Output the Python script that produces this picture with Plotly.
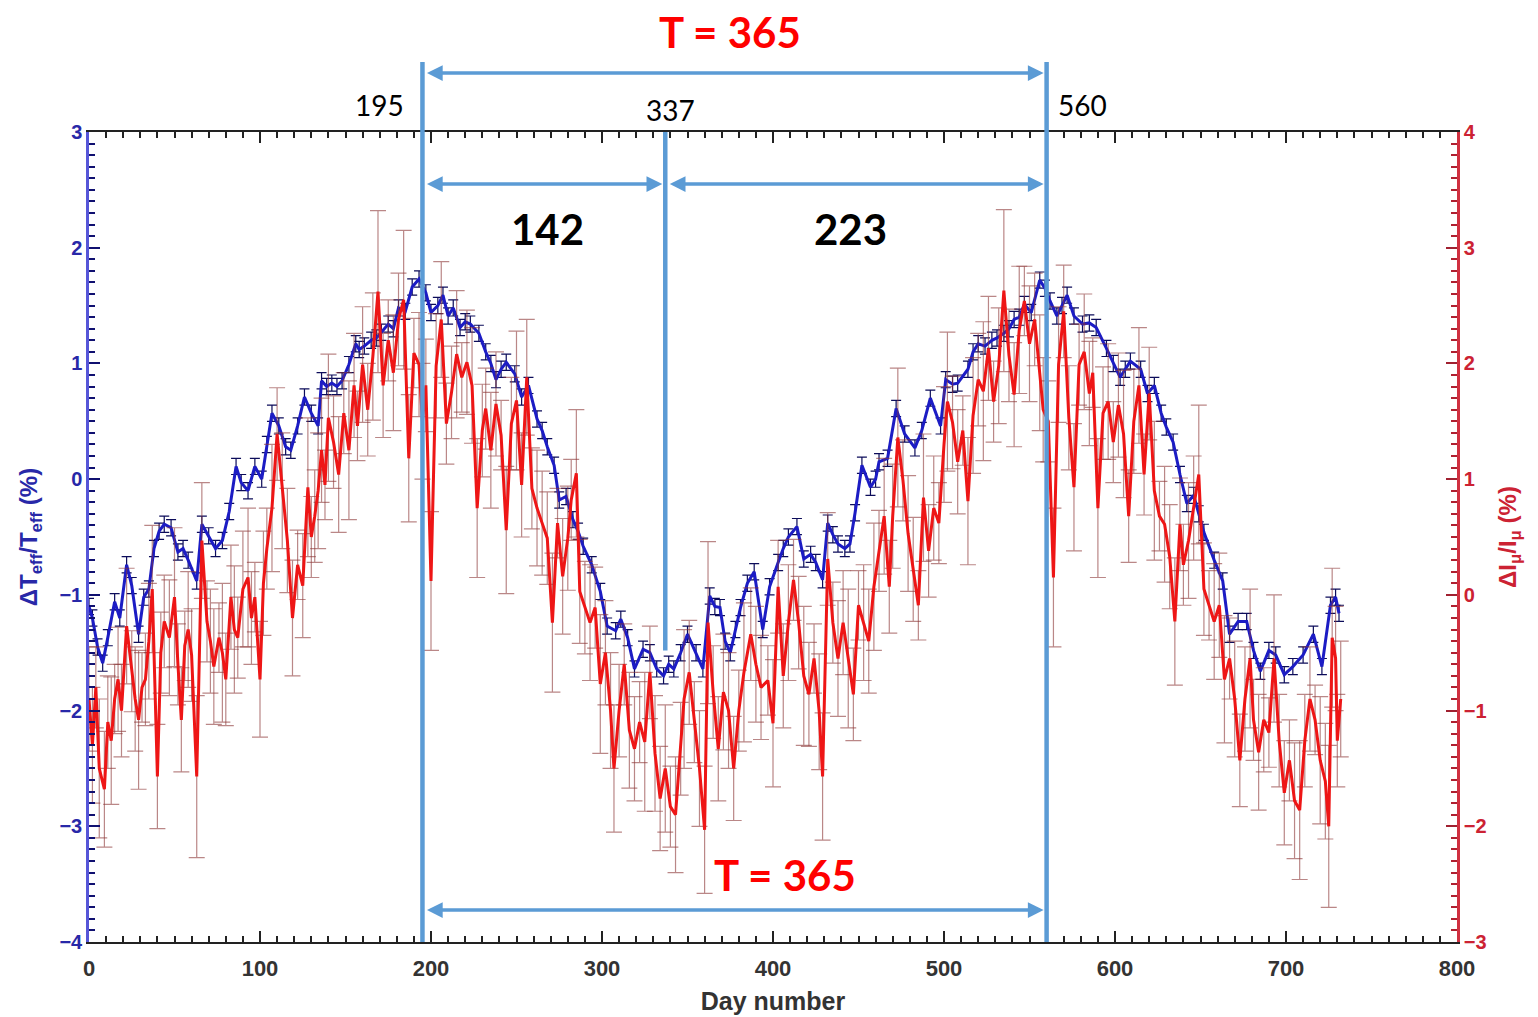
import plotly.graph_objects as go

# ---------------- data ----------------
# Blue series: Delta T_eff / T_eff (%), left axis
blue_days_y1 = [0, 2, 5, 8, 11, 15, 18, 22, 25, 29,
                32, 35, 38, 41, 44, 48, 52, 55, 58, 63,
                66, 70, 74, 78, 82, 86, 89, 93, 97, 101,
                104, 107, 111, 115, 118, 122, 126, 130, 134, 136,
                139, 142, 145, 148, 152, 156, 158, 161, 165, 168,
                171, 175, 178, 181, 185, 189, 193, 197, 200, 204,
                207, 210, 213, 217, 220, 223, 228, 232, 235, 238,
                241, 244, 249, 253, 257, 262, 265, 268, 272, 275,
                279, 283, 286, 289, 294, 299, 303, 308, 311, 315,
                319, 324, 328, 332, 336, 339, 342, 346, 350, 355,
                359, 363]
blue_vals_y1 = [-1.1, -1.2, -1.45, -1.59, -1.37, -1.06, -1.2, -0.74, -0.92, -1.34,
                -1.02, -0.95, -0.6, -0.45, -0.39, -0.42, -0.63, -0.6, -0.7, -0.88,
                -0.39, -0.49, -0.6, -0.53, -0.28, 0.11, -0.03, -0.1, 0.11, 0.0,
                0.3, 0.57, 0.46, 0.28, 0.25, 0.46, 0.71, 0.57, 0.46, 0.85,
                0.8, 0.83, 0.8, 0.85, 0.99, 1.17, 1.12, 1.15, 1.2, 1.22,
                1.27, 1.34, 1.3, 1.48, 1.45, 1.66, 1.73, 1.61, 1.44, 1.5,
                1.59, 1.41, 1.48, 1.31, 1.36, 1.34, 1.26, 1.1, 1.0, 0.86,
                0.95, 1.01, 0.91, 0.71, 0.81, 0.52, 0.42, 0.28, 0.12, -0.18,
                -0.15, -0.35, -0.45, -0.58, -0.74, -0.97, -1.27, -1.31, -1.21, -1.37,
                -1.64, -1.47, -1.5, -1.64, -1.7, -1.6, -1.64, -1.5, -1.34, -1.5,
                -1.64, -1.01]
blue_days_y2 = [366, 369, 372, 375, 378, 381, 385, 389, 394, 398,
                403, 406, 409, 414, 418, 422, 425, 429, 432, 435,
                438, 442, 445, 448, 452, 457, 460, 462, 467, 472,
                477, 483, 487, 492, 498, 501, 505, 508, 514, 517,
                520, 524, 528, 531, 535, 538, 541, 544, 547, 551,
                556, 559, 562, 566, 569, 572, 576, 581, 585, 589,
                595, 599, 603, 606, 609, 615, 619, 623, 627, 630,
                634, 638, 642, 646, 649, 652, 658, 663, 667, 672,
                677, 681, 685, 690, 694, 699, 704, 710, 716, 721,
                726, 729, 731]
blue_vals_y2 = [-1.1, -1.11, -1.4, -1.5, -1.3, -1.11, -0.9, -0.8, -1.3, -0.93,
                -0.72, -0.6, -0.5, -0.41, -0.69, -0.65, -0.72, -0.87, -0.38, -0.48,
                -0.56, -0.6, -0.56, -0.29, 0.12, -0.07, 0.0, 0.15, 0.18, 0.61,
                0.39, 0.27, 0.42, 0.7, 0.46, 0.86, 0.82, 0.83, 0.95, 1.1,
                1.17, 1.15, 1.2, 1.22, 1.26, 1.3, 1.38, 1.4, 1.51, 1.44,
                1.72, 1.65, 1.54, 1.41, 1.5, 1.59, 1.41, 1.34, 1.35, 1.31,
                1.13, 1.0, 0.88, 0.95, 1.02, 0.95, 0.74, 0.81, 0.57, 0.45,
                0.32, 0.04, -0.21, -0.14, -0.3, -0.46, -0.7, -0.88, -1.34, -1.23,
                -1.23, -1.48, -1.66, -1.48, -1.52, -1.69, -1.62, -1.52, -1.34, -1.62,
                -1.09, -1.02, -1.16]
blue_err = 0.07

# Red series: Delta I_mu / I_mu (%), right axis
red_days_y1 = [0, 2, 4, 6, 9, 11, 13, 15, 17, 19,
               22, 25, 27, 29, 31, 33, 35, 37, 40, 42,
               44, 47, 50, 52, 54, 56, 58, 60, 63, 66,
               69, 71, 73, 76, 78, 80, 83, 85, 87, 90,
               93, 95, 97, 100, 102, 104, 107, 110, 113, 116,
               119, 122, 125, 128, 130, 132, 134, 136, 138, 140,
               143, 146, 149, 152, 155, 157, 160, 163, 166, 169,
               172, 175, 178, 181, 184, 187, 190, 193, 195, 197,
               200, 203, 206, 209, 212, 215, 218, 221, 224, 227,
               230, 232, 235, 238, 241, 244, 247, 250, 253, 256,
               259, 262, 265, 268, 271, 274, 277, 280, 282, 285,
               287, 290, 293, 296, 299, 302, 305, 307, 310, 313,
               316, 319, 322, 325, 328, 331, 334, 337, 340, 343,
               346, 348, 351, 354, 357, 360, 362, 365, 368, 371]
red_vals_y1 = [-0.9, -1.3, -0.8, -1.5, -1.68, -1.1, -1.26, -0.9, -0.73, -1.0,
               -0.27, -0.66, -0.9, -1.08, -0.8, -0.73, -0.4, 0.05, -1.57, -0.5,
               -0.23, -0.37, -0.02, -0.6, -1.08, -0.44, -0.3, -0.52, -1.57, 0.47,
               -0.23, -0.4, -0.62, -0.37, -0.5, -0.73, -0.02, -0.3, -0.37, 0.05,
               0.15, -0.2, -0.02, -0.73, 0.1, 0.4, 0.75, 1.39, 0.9, 0.47,
               -0.2, 0.26, 0.08, 0.93, 0.5, 0.68, 0.9, 1.25, 0.95, 1.53,
               1.32, 1.04, 1.57, 1.25, 1.81, 1.46, 1.99, 1.6, 2.06, 2.62,
               1.81, 2.2, 1.92, 2.38, 2.55, 1.18, 2.09, 1.99, 1.5, 1.81,
               0.12, 1.98, 2.38, 1.48, 1.75, 2.08, 1.88, 2.01, 1.81, 0.75,
               1.42, 1.61, 1.25, 1.65, 1.38, 0.56, 1.48, 1.68, 0.95, 1.88,
               0.92, 0.75, 0.62, 0.49, -0.24, 0.62, 0.16, 0.49, 0.82, 1.05,
               0.03, -0.11, -0.24, -0.11, -0.77, -0.5, -1.0, -1.5, -1.0, -0.6,
               -1.17, -1.33, -1.1, -1.27, -0.67, -1.37, -1.76, -1.5, -1.83, -1.9,
               -1.33, -0.9, -0.67, -1.1, -1.5, -2.03, -0.24, -0.84, -1.33, -0.84]
red_errs_y1 = [0.45, 0.5, 0.35, 0.6, 0.5, 0.4, 0.55, 0.3, 0.45, 0.4,
               0.5, 0.35, 0.45, 0.6, 0.3, 0.4, 0.5, 0.55, 0.45, 0.35,
               0.4, 0.5, 0.6, 0.35, 0.45, 0.3, 0.5, 0.4, 0.7, 0.5,
               0.35, 0.45, 0.5, 0.3, 0.6, 0.4, 0.45, 0.55, 0.35, 0.5,
               0.6, 0.4, 0.3, 0.5, 0.45, 0.35, 0.55, 0.4, 0.5, 0.45,
               0.5, 0.3, 0.45, 0.6, 0.35, 0.4, 0.5, 0.45, 0.3, 0.55,
               0.4, 0.5, 0.35, 0.6, 0.45, 0.3, 0.5, 0.4, 0.55, 0.7,
               0.45, 0.35, 0.5, 0.4, 0.6, 0.55, 0.3, 0.45, 0.5, 0.4,
               0.6, 0.45, 0.5, 0.35, 0.4, 0.55, 0.3, 0.45, 0.5, 0.6,
               0.4, 0.35, 0.5, 0.45, 0.3, 0.55, 0.4, 0.6, 0.45, 0.5,
               0.35, 0.5, 0.45, 0.4, 0.6, 0.3, 0.5, 0.45, 0.35, 0.55,
               0.45, 0.4, 0.5, 0.35, 0.6, 0.45, 0.5, 0.55, 0.4, 0.35,
               0.5, 0.45, 0.35, 0.6, 0.4, 0.5, 0.45, 0.55, 0.35, 0.5,
               0.4, 0.6, 0.45, 0.35, 0.5, 0.55, 0.7, 0.4, 0.45, 0.5]
red_days_y2 = [374, 377, 380, 383, 387, 390, 393, 397, 400, 403,
               406, 409, 412, 415, 418, 421, 424, 427, 429, 432,
               435, 438, 441, 444, 447, 450, 453, 456, 459, 462,
               465, 468, 470, 473, 476, 479, 482, 485, 488, 491,
               494, 497, 500, 502, 505, 508, 511, 514, 517, 520,
               523, 526, 529, 532, 535, 538, 541, 544, 547, 550,
               553, 556, 558, 561, 564, 567, 570, 573, 576, 579,
               582, 585, 587, 590, 593, 596, 599, 602, 605, 608,
               611, 614, 617, 620, 623, 626, 629, 632, 635, 638,
               640, 643, 646, 649, 652, 655, 658, 661, 664, 667,
               670, 673, 676, 679, 681, 684, 687, 690, 693, 696,
               699, 702, 705, 708, 711, 714, 717, 720, 723, 725,
               727, 729, 730, 732]
red_vals_y2 = [-1.0, -1.5, -1.0, -0.67, -0.34, -0.6, -0.8, -0.74, -1.11, 0.07,
               -0.7, -0.24, 0.13, -0.24, -0.7, -0.86, -0.55, -1.01, -1.57, 0.31,
               -0.24, -0.55, -0.24, -0.55, -0.86, -0.09, -0.24, -0.4, 0.07, 0.38,
               0.68, 0.07, 0.68, 1.36, 0.99, 0.53, 0.22, -0.09, 0.84, 0.38,
               0.75, 0.62, 1.3, 1.67, 1.49, 1.15, 1.42, 0.81, 1.55, 1.86,
               1.76, 2.13, 1.67, 1.98, 2.63, 2.07, 1.73, 2.29, 2.54, 2.17,
               2.38, 1.92, 1.6, 1.5, 0.15, 1.99, 2.45, 1.53, 0.93, 1.99,
               2.1, 1.74, 1.92, 0.75, 1.57, 1.67, 1.32, 1.64, 1.39, 0.68,
               1.5, 1.81, 1.04, 1.74, 0.9, 0.68, 0.61, 0.33, -0.23, 0.61,
               0.26, 0.47, 0.75, 1.04, 0.05, -0.09, -0.23, -0.09, -0.73, -0.55,
               -0.9, -1.43, -0.9, -0.55, -1.08, -1.36, -1.08, -1.19, -0.55, -1.26,
               -1.71, -1.43, -1.78, -1.86, -1.26, -0.9, -1.08, -1.43, -1.61, -2.0,
               -0.37, -0.55, -1.26, -0.9]
red_errs_y2 = [0.5, 0.45, 0.35, 0.6, 0.4, 0.5, 0.45, 0.3, 0.55, 0.4,
               0.45, 0.5, 0.35, 0.4, 0.6, 0.45, 0.3, 0.5, 0.55, 0.4,
               0.35, 0.5, 0.45, 0.6, 0.4, 0.3, 0.5, 0.45, 0.55, 0.35,
               0.5, 0.4, 0.45, 0.6, 0.35, 0.5, 0.45, 0.3, 0.55, 0.4,
               0.45, 0.35, 0.5, 0.6, 0.4, 0.45, 0.3, 0.55, 0.5, 0.4,
               0.6, 0.45, 0.35, 0.5, 0.7, 0.4, 0.45, 0.55, 0.3, 0.5,
               0.4, 0.5, 0.45, 0.35, 0.6, 0.5, 0.4, 0.45, 0.55, 0.35,
               0.5, 0.45, 0.3, 0.6, 0.4, 0.5, 0.35, 0.45, 0.55, 0.4,
               0.45, 0.5, 0.35, 0.4, 0.6, 0.3, 0.5, 0.45, 0.55, 0.4,
               0.35, 0.5, 0.45, 0.6, 0.4, 0.3, 0.5, 0.45, 0.55, 0.35,
               0.5, 0.4, 0.45, 0.6, 0.35, 0.5, 0.45, 0.3, 0.55, 0.4,
               0.45, 0.35, 0.5, 0.6, 0.4, 0.45, 0.3, 0.55, 0.5, 0.7,
               0.6, 0.45, 0.4, 0.5]

# annotation values
marker_days = [195, 337, 560]
period = 365

# ---------------- figure ----------------
BLUE = '#1c1cc4'
RED = '#ee1616'
GUIDE = '#5b9bd5'

fig = go.Figure()
fig.add_trace(go.Scatter(
    x=blue_days_y1 + blue_days_y2, y=blue_vals_y1 + blue_vals_y2,
    mode='lines', line=dict(color=BLUE, width=3),
    error_y=dict(type='constant', value=blue_err, color='#0c0c5a',
                 thickness=1.2, width=5),
    yaxis='y', hoverinfo='skip'))
fig.add_trace(go.Scatter(
    x=red_days_y1 + red_days_y2, y=red_vals_y1 + red_vals_y2,
    mode='lines', line=dict(color=RED, width=3),
    error_y=dict(type='data', array=red_errs_y1 + red_errs_y2,
                 color='rgba(140,55,55,0.6)', thickness=1.2, width=8),
    yaxis='y2', hoverinfo='skip'))

tick_font_x = dict(family='Liberation Sans', size=22, color='#333333', weight='bold')
fig.update_layout(
    width=1538, height=1017,
    margin=dict(l=89, r=81, t=132, b=75, autoexpand=False),
    paper_bgcolor='white', plot_bgcolor='white',
    showlegend=False,
    xaxis=dict(range=[0, 800], dtick=100, tick0=0, automargin=False,
               ticks='inside', ticklen=11, tickwidth=2, tickcolor='#222222',
               showline=True, linecolor='#222222', linewidth=2, mirror='ticks',
               showgrid=False, zeroline=False,
               minor=dict(dtick=10, ticks='inside', ticklen=6, tickwidth=1.5,
                          tickcolor='#222222', showgrid=False),
               tickfont=tick_font_x, ticklabelstandoff=6,
               title=dict(text='Day number', standoff=12,
                          font=dict(family='Liberation Sans', size=25,
                                    color='#333333', weight='bold'))),
    yaxis=dict(range=[-4, 3], dtick=1, tick0=0, automargin=False,
               ticks='inside', ticklen=11, tickwidth=2, tickcolor='#101070',
               showline=True, linecolor='#5656d8', linewidth=2.5,
               showgrid=False, zeroline=False,
               minor=dict(dtick=0.1, ticks='inside', ticklen=6, tickwidth=2,
                          tickcolor='#101070', showgrid=False),
               tickfont=dict(family='Liberation Sans', size=20,
                             color='#2828a8', weight='bold'),
               title=dict(text='\u0394T<sub>eff</sub>/T<sub>eff</sub> (%)',
                          standoff=16,
                          font=dict(family='Liberation Sans', size=24,
                                    color='#2828a8', weight='bold'))),
    yaxis2=dict(range=[-3, 4], dtick=1, tick0=0, overlaying='y', side='right',
                automargin=False,
                ticks='inside', ticklen=11, tickwidth=2, tickcolor='#a02030',
                showline=True, linecolor='#d03040', linewidth=2.5,
                showgrid=False, zeroline=False,
                minor=dict(dtick=0.1, ticks='inside', ticklen=6, tickwidth=2,
                           tickcolor='#b02030', showgrid=False),
                tickfont=dict(family='Liberation Sans', size=20,
                              color='#cc2233', weight='bold'),
                title=dict(text='\u0394I<sub>\u03bc</sub>/I<sub>\u03bc</sub> (%)',
                           standoff=14,
                           font=dict(family='Liberation Sans', size=24,
                                     color='#cc2233', weight='bold'))),
)

d0, dm, d1 = marker_days
# vertical guide lines
for d in (d0, d1):
    fig.add_shape(type='line', xref='x', yref='paper', x0=d, x1=d,
                  y0=0.0, y1=1.0864, line=dict(color=GUIDE, width=4.5))
fig.add_shape(type='line', xref='x', yref='y', x0=dm, x1=dm,
              y0=-1.48, y1=3.0, line=dict(color=GUIDE, width=4.5))


def harrow(xa, xb, ypaper):
    fig.add_annotation(x=xb, y=ypaper, xref='x', yref='paper',
                       ax=xa, ay=0, axref='x', ayref='pixel',
                       text='', showarrow=True, arrowside='end+start',
                       arrowhead=2, arrowsize=0.9, arrowwidth=3.5,
                       arrowcolor=GUIDE, standoff=3, startstandoff=3)


harrow(d0, d1, 1.0728)
harrow(d0, dm, 0.9358)
harrow(dm, d1, 0.9358)
harrow(d0, d1, 0.0395)


def label(xp, yp, text, font):
    fig.add_annotation(x=xp, y=yp, xref='paper', yref='paper',
                       xanchor='center', yanchor='middle',
                       text=text, showarrow=False, font=font)


calib_bold = dict(family='Lato', size=42, weight='bold')
label(0.4686, 1.1235, f'T = {period}', dict(calib_bold, color='#ff0000'))
label(0.5088, 0.0827, f'T = {period}', dict(calib_bold, color='#ff0000'))
label(0.3348, 0.8802, str(dm - d0), dict(calib_bold, color='#000000'))
label(0.5563, 0.8802, str(d1 - dm), dict(calib_bold, color='#000000'))

label_font = dict(family='Lato', size=28, color='#000000')
label(0.212, 1.0333, str(d0), label_font)
label(0.4254, 1.027, str(dm), label_font)
label(0.7266, 1.0333, str(d1), label_font)

fig.write_html('out.html')
